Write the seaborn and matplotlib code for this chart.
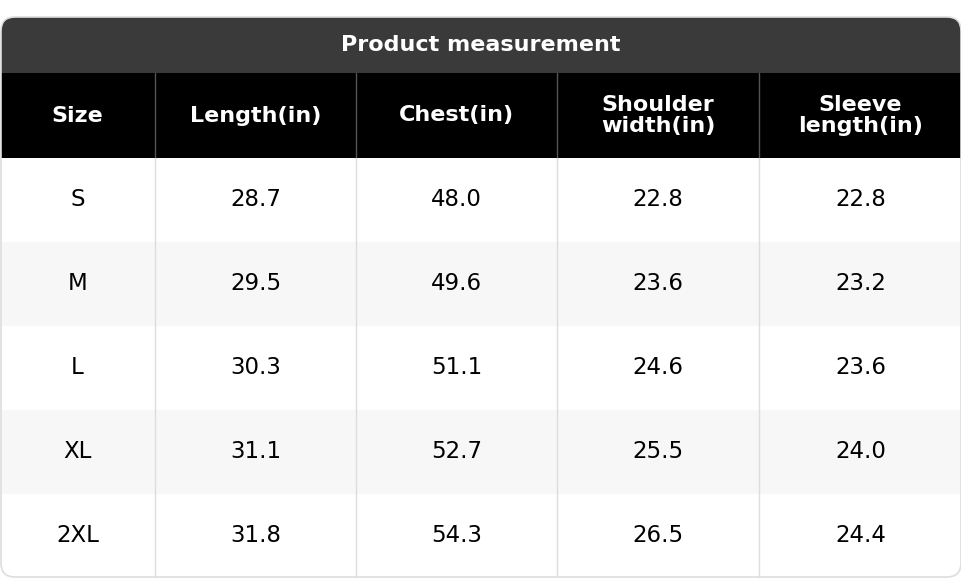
import seaborn as sns
import matplotlib.pyplot as plt
from matplotlib.patches import Rectangle, FancyBboxPatch

sns.set_theme(style="white")
plt.rcParams['font.family'] = ['DejaVu Sans']

title = "Product measurement"
headers = ["Size", "Length(in)", "Chest(in)", "Shoulder\nwidth(in)", "Sleeve\nlength(in)"]
sizes = ["S", "M", "L", "XL", "2XL"]
length = [28.7, 29.5, 30.3, 31.1, 31.8]
chest = [48.0, 49.6, 51.1, 52.7, 54.3]
shoulder = [22.8, 23.6, 24.6, 25.5, 26.5]
sleeve = [22.8, 23.2, 23.6, 24.0, 24.4]

# layout in pixel units
col_edges = [0, 155, 356, 557, 759, 962]
top, title_h, head_h, row_h = 17, 56, 85, 84

fig = plt.figure(figsize=(9.62, 5.80), dpi=100)
ax = fig.add_axes([0, 0, 1, 1])
ax.set_xlim(0, 962)
ax.set_ylim(580, 0)
ax.axis("off")

y0 = top + title_h
yb = y0 + head_h
bottom = yb + len(sizes) * row_h

# body background (white, rounded bottom)
ax.add_patch(FancyBboxPatch((1, y0), 960, bottom - y0 - 1, boxstyle="round,pad=0,rounding_size=12",
                            facecolor="white", edgecolor="none"))
# title background (rounded top)
ax.add_patch(FancyBboxPatch((1, top), 960, title_h + 30, boxstyle="round,pad=0,rounding_size=14",
                            facecolor="#3a3a3a", edgecolor="none"))
ax.text(481, top + title_h / 2, title, ha="center", va="center", color="white",
        fontsize=16, fontweight="bold")

ax.add_patch(Rectangle((1, y0), 960, head_h, facecolor="black", edgecolor="none"))
for i, h in enumerate(headers):
    cx = (col_edges[i] + col_edges[i + 1]) / 2
    ax.text(cx, y0 + head_h / 2, h, ha="center", va="center", color="white",
            fontsize=16, fontweight="bold", linespacing=1.05)

rows = list(zip(sizes, length, chest, shoulder, sleeve))
for r, row in enumerate(rows):
    ry = yb + r * row_h
    if r % 2 == 1:
        ax.add_patch(Rectangle((1, ry), 960, row_h, facecolor="#f7f7f7", edgecolor="none"))
    for i, v in enumerate(row):
        cx = (col_edges[i] + col_edges[i + 1]) / 2
        txt = v if isinstance(v, str) else f"{v:.1f}"
        ax.text(cx, ry + row_h / 2, txt, ha="center", va="center", color="black", fontsize=16.5)

for x in col_edges[1:-1]:
    ax.plot([x, x], [y0, yb], color="#555555", lw=1)
    ax.plot([x, x], [yb, bottom - 1], color="#dddddd", lw=1)
ax.add_patch(FancyBboxPatch((1, top), 960, bottom - top - 1, boxstyle="round,pad=0,rounding_size=14",
                            facecolor="none", edgecolor="#dddddd", lw=1.2))

fig.savefig("out.png", dpi=100)
